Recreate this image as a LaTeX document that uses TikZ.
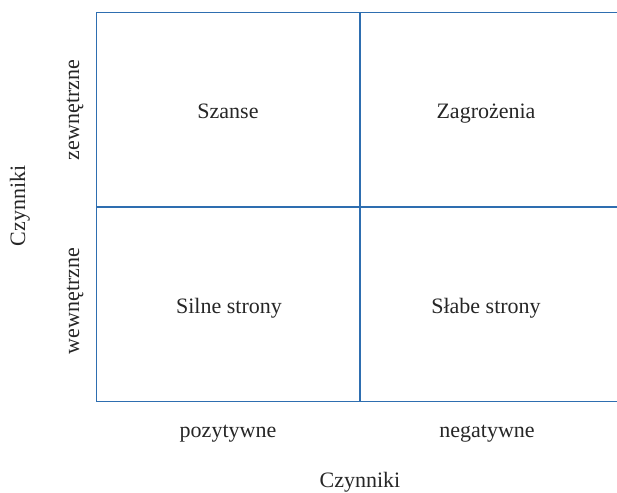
\documentclass[tikz,border=0pt]{standalone}
\usepackage{fontspec}
\setmainfont{Liberation Serif}
\definecolor{gridblue}{RGB}{46,110,176}
\begin{document}
\begin{tikzpicture}[x=1pt,y=-1pt,
  gridline/.style={draw=gridblue,line width=1.4pt},
  lbl/.style={font=\fontsize{22}{26}\selectfont,text=black!85,inner sep=0pt,anchor=base}]
\useasboundingbox (0,0) rectangle (617,492);
% grid corners
\coordinate (tl) at (96.5,12.5);
\coordinate (tr) at (617,12.5);
\coordinate (ml) at (96.5,207);
\coordinate (mr) at (617,207);
\coordinate (bl) at (96.5,401.5);
\coordinate (br) at (617,401.5);
\coordinate (tm) at (360,12.5);
\coordinate (bm) at (360,401.5);
\draw[gridline] (tr) -- (tl) -- (bl) -- (br);
\draw[gridline] (ml) -- (mr);
\draw[gridline] (tm) -- (bm);
% quadrant labels (positions are baselines)
\node[lbl] (s) at (228,118) {Szanse};
\node[lbl] (z) at (486,118) {Zagrożenia};
\node[lbl] (ss) at (229,313) {Silne strony};
\node[lbl] (ws) at (486,313) {Słabe strony};
% axis labels
\node[lbl] (poz) at (228,437) {pozytywne};
\node[lbl] (neg) at (487,437) {negatywne};
\node[lbl] (cx) at (360,487) {Czynniki};
\node[lbl,rotate=90] (zew) at (79,110) {zewnętrzne};
\node[lbl,rotate=90] (wew) at (79,301) {wewnętrzne};
\node[lbl,rotate=90] (cy) at (25,206) {Czynniki};
\end{tikzpicture}
\end{document}
